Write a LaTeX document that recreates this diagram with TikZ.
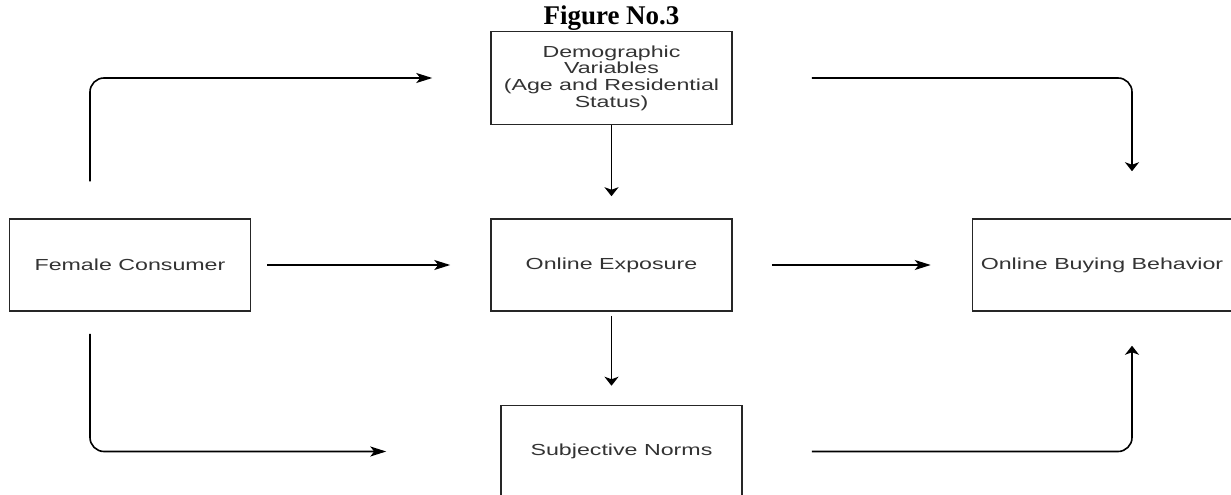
\documentclass[tikz,border=0pt]{standalone}
\usepackage{fontspec}
\setmainfont{Liberation Serif}
\newfontfamily\boxfont[FakeStretch=1.45]{Liberation Sans}
\usetikzlibrary{arrows.meta,positioning,calc}
\tikzset{
  blk/.style={rectangle, draw=black!85, line width=1.5pt, minimum width=241pt, minimum height=92pt,
              inner sep=0pt, align=center, text=black!80, font=\boxfont\fontsize{16}{16.7}\selectfont},
  ttl/.style={font=\bfseries\fontsize{27}{30}\selectfont, inner sep=0pt},
  arh/.style={-{Stealth[length=16pt,width=10pt,inset=4pt]}, line width=1.6pt},
  arv/.style={-{Stealth[length=9pt,width=14pt,inset=2.5pt]}, line width=1.6pt},
}

\begin{document}
\begin{tikzpicture}[x=1pt, y=-1pt, node distance=93pt and 239pt]
\useasboundingbox (0,0) rectangle (1231,495);
\node[blk] (exp) at (611.5,265) {Online Exposure};
\node[blk, left=of exp] (fem) {Female Consumer};
\node[blk, right=of exp, minimum width=259pt] (buy) {Online Buying Behavior};
\node[blk, above=of exp, minimum height=93pt] (dem) {Demographic\\Variables\\(Age and Residential\\Status)};
\node[blk, below=of exp, xshift=10pt] (norm) {Subjective Norms};
\node[ttl, above=0pt of dem] (title) {Figure No.3};
% straight links
\draw[arh, shorten <=16pt, shorten >=40pt] (fem) -- (exp);
\draw[arh, shorten <=39pt, shorten >=41pt] (exp) -- (buy);
\draw[arv, shorten >=22pt] (dem) -- (exp);
\draw[arv, shorten <=4pt, shorten >=19pt] (exp.south) -- (exp.south |- norm.north);
% bent links
\draw[arh, rounded corners=14pt] ($(fem.north)+(-40pt,37pt)$) |- ($(dem.west)+(-58pt,0pt)$);
\draw[arh, rounded corners=14pt] ($(fem.south)+(-40pt,-22pt)$) |- ($(norm.west)+(-114pt,0pt)$);
\draw[arv, rounded corners=14pt] ($(dem.east)+(79pt,0pt)$) -| ($(buy.north)+(30pt,47pt)$);
\draw[arv, rounded corners=14pt] ($(norm.east)+(69pt,0pt)$) -| ($(buy.south)+(30pt,-34pt)$);
\end{tikzpicture}
\end{document}
